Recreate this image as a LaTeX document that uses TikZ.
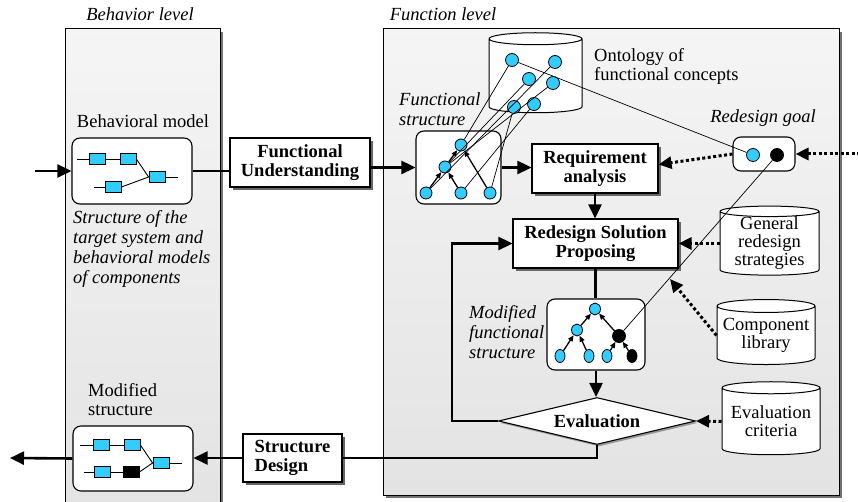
\documentclass[tikz,border=0pt]{standalone}
\usepackage{fontspec}
\setmainfont{Liberation Serif}
\usepackage{tikz}
\usetikzlibrary{positioning}
\usetikzlibrary{calc}
\usetikzlibrary{arrows.meta}
\usetikzlibrary{shapes.geometric}
\usetikzlibrary{shadows}
\definecolor{fcyan}{RGB}{51,204,255}

\begin{document}
\begin{tikzpicture}[x=1pt, y=-1pt, inner sep=0pt,
    font=\fontsize{18.5}{19}\selectfont,
    lvl/.style={font=\fontsize{18.5}{20}\selectfont\itshape},
    panel/.style={draw=black, line width=1pt, top color=black!4, bottom color=black!11},
    box/.style={draw, line width=1.1pt, fill=white, align=center,
        font=\fontsize{18.5}{19}\selectfont\bfseries,
        drop shadow={shadow xshift=3pt, shadow yshift=-3pt, fill=black!60, opacity=1}},
    rbox/.style={draw, line width=1.1pt, fill=white, rounded corners=8pt},
    db/.style={cylinder, shape border rotate=90, aspect=0.15, draw, line width=1pt,
        fill=white, align=center, font=\fontsize{18.5}{18}\selectfont},
    fn/.style={circle, draw, fill=fcyan, line width=0.8pt, minimum size=12pt},
    fnb/.style={fn, fill=black},
    mf/.style={ellipse, draw, fill=fcyan, line width=0.8pt, minimum width=10pt, minimum height=13pt},
    mfb/.style={mf, fill=black},
    cmp/.style={rectangle, draw, fill=fcyan, line width=0.8pt, minimum width=16pt, minimum height=11pt},
    cmpb/.style={cmp, fill=black},
    flow/.style={line width=2.6pt, -{Triangle[length=14pt,width=13pt]}},
    link/.style={line width=2.6pt},
    hint/.style={line width=3pt, dash pattern=on 3pt off 2.5pt, -{Triangle[length=13pt,width=12pt]}},
    sub/.style={line width=1.3pt, -{Triangle[length=6pt,width=5pt]}},
    map/.style={line width=0.7pt},
    wire/.style={line width=0.9pt}]
  \useasboundingbox (0,0) rectangle (858,502);

  % levels
  \fill[black!55] (68,32) rectangle (223,515);
  \draw[panel] (65,29) rectangle (220,515);
  \fill[black!55] (386,32) rectangle (842,498);
  \draw[panel] (383,29) rectangle (839,495);
  \node[lvl] (lvlB) at (140,14) {Behavior level};
  \node[lvl] (lvlF) at (443,14) {Function level};

  % behavior level
  \node (bmL) at (143,121) {Behavioral model};
  \node[rbox, minimum width=120pt, minimum height=66pt] (bm) at (132,171) {};
  \node[cmp] (b1) at (97,159) {};
  \node[cmp] (b2) at (128,159) {};
  \node[cmp] (b3) at (157,177) {};
  \node[cmp] (b4) at (113,187) {};
  \coordinate (b1in) at (77,159);
  \coordinate (b4in) at (94,187);
  \coordinate (b3out) at (178,177);
  \draw[wire] (b1in) -- (b1.west);
  \draw[wire] (b1) -- (b2);
  \draw[wire] (b2.east) -- (b3.west);
  \draw[wire] (b4in) -- (b4.west);
  \draw[wire] (b4.east) -- (b3.west);
  \draw[wire] (b3.east) -- (b3out);
  \node[lvl, align=left, anchor=west] (bmD) at (73,249)
    {Structure of the\\target system and\\behavioral models\\of components};

  \node[align=left, anchor=west] (msL) at (88,400) {Modified\\structure};
  \node[rbox, minimum width=120pt, minimum height=65pt] (ms) at (133,458.5) {};
  \node[cmp] (s1) at (101,445) {};
  \node[cmp] (s2) at (132,445) {};
  \node[cmp] (s3) at (161,463) {};
  \node[cmp] (s4) at (102,472) {};
  \node[cmpb] (s5) at (131,472) {};
  \coordinate (s1in) at (80,445);
  \coordinate (s4in) at (84,472);
  \coordinate (s3out) at (182,463);
  \draw[wire] (s1in) -- (s1.west);
  \draw[wire] (s1) -- (s2);
  \draw[wire] (s2.east) -- (s3.west);
  \draw[wire] (s4in) -- (s4.west);
  \draw[wire] (s4) -- (s5);
  \draw[wire] (s5.east) -- (s3.west);
  \draw[wire] (s3.east) -- (s3out);

  % between the levels
  \node[box, minimum width=140pt, minimum height=49pt] (fu) at (300,162.5) {Functional\\Understanding};
  \node[box, minimum width=99pt, minimum height=48pt, align=left] (sd) at (292.5,458) {Structure\\Design};

  % function level
  \node[db, text width=80pt, minimum width=93pt, minimum height=80pt] (ont) at (535.5,76) {};
  \node[align=left, anchor=west] (ontL) at (594,66) {Ontology of\\functional concepts};
  \node[fn, minimum size=13pt] (o1) at (512,60) {};
  \node[fn, minimum size=13pt] (o2) at (555,62) {};
  \node[fn, minimum size=13pt] (o3) at (529,79) {};
  \node[fn, minimum size=13pt] (o4) at (553,83) {};
  \node[fn, minimum size=13pt] (o5) at (514,107) {};
  \node[fn, minimum size=13pt] (o6) at (534,104) {};

  \node[lvl, align=left, anchor=west] (fsL) at (399,109) {Functional\\structure};
  \node[rbox, minimum width=85pt, minimum height=73pt] (fs) at (458.5,167.5) {};
  \node[fn] (ft) at (461,145) {};
  \node[fn] (fm) at (445,167) {};
  \node[fn] (f1) at (426,193) {};
  \node[fn] (f2) at (461,193) {};
  \node[fn] (f3) at (490,193) {};
  \draw[sub] (f1) -- (fm);
  \draw[sub] (f2) -- (fm);
  \draw[sub] (fm) -- (ft);
  \draw[sub] (f3) -- (ft);

  \node[lvl] (goalL) at (763,118) {Redesign goal};
  \node[rbox, minimum width=62pt, minimum height=34pt] (goal) at (764,154) {};
  \node[fn, minimum size=13pt] (g1) at (753,155) {};
  \node[fnb, minimum size=13pt] (g2) at (777,155) {};

  \node[box, minimum width=126pt, minimum height=49pt] (req) at (595,168.5) {Requirement\\analysis};
  \node[box, minimum width=165pt, minimum height=49pt] (rsp) at (595.5,243.5) {Redesign Solution\\Proposing};

  \node[db, minimum width=99pt, minimum height=67pt] (gen) at (769.5,243.5) {General\\redesign\\strategies};
  \node[db, minimum width=98pt, minimum height=65pt] (comp) at (766,335.5) {Component\\library};
  \node[db, minimum width=98pt, minimum height=73pt] (ec) at (771,421.5) {Evaluation\\criteria};
  \coordinate (compTip) at (670,279);

  \node[lvl, align=left, anchor=west] (mfsL) at (469,332) {Modified\\functional\\structure};
  \node[rbox, minimum width=98pt, minimum height=71pt] (mfs) at (596,334.5) {};
  \node[mf, minimum width=11pt, minimum height=12pt] (m1) at (595,309) {};
  \node[mf, minimum width=11pt, minimum height=12pt] (m2) at (577,330) {};
  \node[mfb, minimum width=13pt] (m3) at (619,336) {};
  \node[mf] (m4) at (560,356) {};
  \node[mf] (m5) at (589,356) {};
  \node[mf] (m6) at (607,356) {};
  \node[mfb] (m7) at (632,356) {};
  \draw[sub] (m4) -- (m2);
  \draw[sub] (m5) -- (m2);
  \draw[sub] (m6) -- (m3);
  \draw[sub] (m7) -- (m3);
  \draw[sub] (m2) -- (m1);
  \draw[sub] (m3) -- (m1);

  \node[diamond, draw, line width=1.1pt, fill=white, aspect=4.2, minimum width=197pt, minimum height=47pt,
    font=\fontsize{18.5}{19}\selectfont\bfseries,
    drop shadow={shadow xshift=2pt, shadow yshift=-2pt, fill=black!40, opacity=1}] (ev) at (597,421) {Evaluation};

  % concept links
  \draw[map] (o1) -- (ft);
  \draw[map] (o2) -- (f1);
  \draw[map] (o3) -- (fm);
  \draw[map] (o4) -- (fm);
  \draw[map] (o5) -- (f3);
  \draw[map] (o6) -- (f2);
  \draw[map] (o1) -- (g1);
  \draw[map] (g2) -- (m3);

  % flow
  \coordinate (inL) at (35,171);
  \coordinate (inR) at (860,154);
  \coordinate (outL) at (10,458);
  \draw[flow] (inL) -- (bm.west);
  \draw[link] (bm.east) -- (bm.east -| fu.west);
  \draw[flow] (fu.east |- fs.west) -- (fs.west);
  \draw[flow] (fs.east) -- (fs.east -| req.west);
  \draw[flow] (req.south) -- (req.south |- rsp.north);
  \draw[link] (rsp.south) -- (rsp.south |- mfs.north);
  \draw[flow] (mfs.south) -- (mfs.south |- ev.north);
  \draw[flow] (ev.west) -- ++(-46,0) |- (rsp.west);
  \draw[link] (ev.south) |- (sd.east);
  \draw[flow] (sd.west) -- (sd.west -| ms.east);
  \draw[flow] (ms.west) -- (outL);

  \draw[hint] (inR) -- (goal.east);
  \draw[hint] (goal.west) -- ($(req.east)+(0,-4)$);
  \draw[hint] (gen.west) -- (gen.west -| rsp.east);
  \draw[hint] (comp.west) -- (compTip);
  \draw[hint] (ec.west) -- (ev.east);
\end{tikzpicture}
\end{document}
